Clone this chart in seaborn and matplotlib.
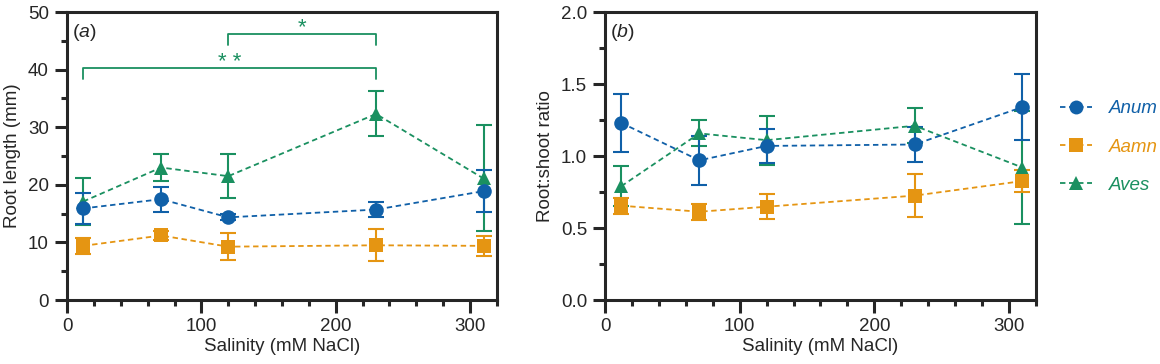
import numpy as np
import pandas as pd
import matplotlib
matplotlib.use('Agg')
import matplotlib.pyplot as plt
from matplotlib.ticker import MultipleLocator, FormatStrFormatter
from matplotlib.lines import Line2D
import seaborn as sns

sns.set_style('ticks')
plt.rcParams['font.family'] = ['Liberation Sans', 'DejaVu Sans']
plt.rcParams['mathtext.fontset'] = 'custom'
plt.rcParams['mathtext.it'] = 'Liberation Sans:italic'
plt.rcParams['mathtext.rm'] = 'Liberation Sans'

# data
salinity = [12, 70, 120, 230, 310]
species = ['Anum', 'Aamn', 'Aves']
colors = {'Anum': '#1060a8', 'Aamn': '#e59512', 'Aves': '#1a9060'}
markers = {'Anum': 'o', 'Aamn': 's', 'Aves': '^'}

root_anum = [15.9, 17.5, 14.35, 15.7, 18.9]
root_anum_err = [2.7, 2.2, 0.5, 1.3, 3.7]
root_aamn = [9.4, 11.2, 9.26, 9.5, 9.4]
root_aamn_err = [1.4, 0.8, 2.3, 2.8, 1.7]
root_aves = [17.1, 23.0, 21.5, 32.3, 21.1]
root_aves_err = [4.0, 2.4, 3.8, 3.9, 9.2]

ratio_anum = [1.23, 0.97, 1.07, 1.08, 1.34]
ratio_anum_err = [0.20, 0.17, 0.12, 0.12, 0.23]
ratio_aamn = [0.655, 0.613, 0.648, 0.725, 0.826]
ratio_aamn_err = [0.055, 0.055, 0.085, 0.15, 0.077]
ratio_aves = [0.79, 1.157, 1.11, 1.21, 0.92]
ratio_aves_err = [0.14, 0.09, 0.17, 0.12, 0.39]

rows = []
for sp, rl, rle, rr, rre in [
        ('Aves', root_aves, root_aves_err, ratio_aves, ratio_aves_err),
        ('Aamn', root_aamn, root_aamn_err, ratio_aamn, ratio_aamn_err),
        ('Anum', root_anum, root_anum_err, ratio_anum, ratio_anum_err)]:
    for i, s in enumerate(salinity):
        rows.append({'species': sp, 'salinity': s, 'root': rl[i], 'root_err': rle[i],
                     'ratio': rr[i], 'ratio_err': rre[i]})
df = pd.DataFrame(rows)

FS = 13.5
fig = plt.figure(figsize=(11.6, 3.64), dpi=100)
ax1 = fig.add_axes([0.0578, 0.1758, 0.3706, 0.7912])
ax2 = fig.add_axes([0.5216, 0.1758, 0.3714, 0.7912])

def draw(ax, col, ecol):
    for sp in ['Aves', 'Aamn', 'Anum']:
        d = df[df['species'] == sp]
        ax.errorbar(d['salinity'], d[col], yerr=d[ecol], fmt='none',
                    ecolor=colors[sp], elinewidth=1.5, capsize=5.5, capthick=1.5, zorder=2)
        sns.lineplot(data=d, x='salinity', y=col, ax=ax, color=colors[sp],
                     marker=markers[sp], markersize=10.5 if sp != 'Aamn' else 10,
                     markeredgewidth=0, linestyle=(0, (3, 2)), linewidth=1.3,
                     zorder=3, legend=False)
    ax.set_xlim(0, 320)
    ax.xaxis.set_major_locator(MultipleLocator(100))
    ax.xaxis.set_minor_locator(MultipleLocator(20))
    for sp_ in ax.spines.values():
        sp_.set_linewidth(2.2)
    ax.tick_params(which='major', length=9, width=2.2, labelsize=FS, pad=4)
    ax.tick_params(which='minor', length=4.5, width=2.2)
    ax.set_xlabel('Salinity (mM NaCl)', fontsize=FS, labelpad=2)

draw(ax1, 'root', 'root_err')
ax1.set_ylim(0, 50)
ax1.yaxis.set_major_locator(MultipleLocator(10))
ax1.yaxis.set_minor_locator(MultipleLocator(5))
ax1.set_ylabel('Root length (mm)', fontsize=FS, labelpad=5)
ax1.text(4, 46.5, r'($\it{a}$)', fontsize=FS + 0.5, va='center', ha='left')

# significance brackets
g = colors['Aves']
ax1.plot([12, 12, 230, 230], [38.3, 40.2, 40.2, 38.3], color=g, lw=1.3)
ax1.text(121, 41.2, '* *', color=g, ha='center', va='center', fontsize=16)
ax1.plot([120, 120, 230, 230], [44.2, 46.2, 46.2, 44.2], color=g, lw=1.3)
ax1.text(175, 47.2, '*', color=g, ha='center', va='center', fontsize=16)

draw(ax2, 'ratio', 'ratio_err')
ax2.set_ylim(0, 2.0)
ax2.yaxis.set_major_locator(MultipleLocator(0.5))
ax2.yaxis.set_minor_locator(MultipleLocator(0.25))
ax2.yaxis.set_major_formatter(FormatStrFormatter('%.1f'))
ax2.set_ylabel('Root:shoot ratio', fontsize=FS, labelpad=5)
ax2.text(4, 1.86, r'($\it{b}$)', fontsize=FS + 0.5, va='center', ha='left')

handles = [Line2D([0], [0], color=colors[sp], marker=markers[sp], markersize=10,
                  markeredgewidth=0, linestyle=(0, (3, 2)), linewidth=1.3)
           for sp in species]
leg = ax2.legend(handles, species, loc='center left', bbox_to_anchor=(1.056, 0.531),
                 frameon=False, fontsize=FS, handlelength=1.7, labelspacing=1.13,
                 handletextpad=0.9, borderpad=0, borderaxespad=0)
for t, sp in zip(leg.get_texts(), species):
    t.set_color(colors[sp])
    t.set_fontstyle('italic')

fig.savefig('out.png', dpi=100)
